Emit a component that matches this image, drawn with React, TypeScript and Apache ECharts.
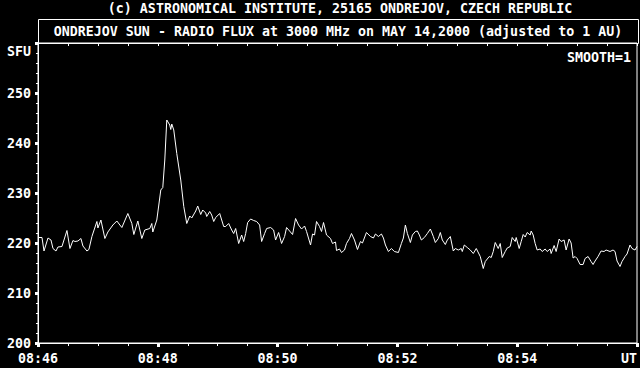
import React, { useEffect, useRef } from "react";
import * as echarts from "echarts";

const titleText = "(c) ASTRONOMICAL INSTITUTE, 25165 ONDREJOV, CZECH REPUBLIC";
const subtitleText = "ONDREJOV SUN - RADIO FLUX at 3000 MHz on MAY 14,2000 (adjusted to 1 AU)";
const smoothText = "SMOOTH=1";
const yUnit = "SFU";
const xTickLabels = ["08:46", "08:48", "08:50", "08:52", "08:54", "UT"];

// seconds after 08:46:00 UT
const seconds = [
  0, 4, 6, 10, 13, 15, 18, 20, 24, 29, 32, 35, 37, 40, 43, 45, 49, 51, 54, 59,
  60, 63, 67, 70, 75, 79, 82, 84, 90, 94, 96, 100, 104, 107, 112, 114, 115, 119, 123, 125,
  127, 129, 132, 133, 134, 136, 139, 143, 146, 149, 152, 154, 158, 160, 163, 165, 168, 169, 172, 174,
  176, 178, 182, 184, 186, 188, 191, 194, 196, 198, 201, 204, 206, 208, 210, 213, 216, 219, 222, 224,
  227, 229, 233, 236, 238, 241, 244, 247, 249, 252, 255, 258, 261, 264, 267, 269, 273, 275, 277, 279,
  282, 284, 286, 289, 293, 295, 298, 299, 302, 304, 307, 309, 312, 314, 317, 320, 323, 325, 329, 333,
  336, 338, 341, 344, 346, 348, 351, 354, 357, 361, 364, 366, 368, 370, 373, 375, 378, 380, 382, 384,
  387, 390, 393, 396, 398, 401, 403, 405, 408, 410, 413, 416, 418, 421, 424, 425, 427, 430, 433, 436,
  439, 443, 446, 448, 452, 454, 456, 458, 461, 463, 465, 468, 470, 473, 475, 478, 479, 482, 484, 486,
  488, 490, 493, 494, 496, 498, 500, 503, 505, 508, 510, 513, 514, 517, 519, 522, 524, 527, 529, 532,
  534, 536, 538, 540, 543, 546, 548, 551, 554, 556, 558, 561, 564, 567, 569, 573, 576, 578, 580, 583,
  585, 588, 590, 593, 595, 598, 600,
];

// radio flux, SFU
const flux = [
  221.1, 221.1, 218.4, 221.0, 220.6, 218.9, 218.4, 219.2, 219.3, 222.5, 218.9, 220.5, 220.3, 220.4, 220.9, 219.4, 218.4, 218.7, 221.3, 224.3,
  223.0, 224.6, 220.9, 222.2, 223.6, 224.4, 223.6, 223.1, 225.9, 223.9, 221.7, 224.4, 220.9, 222.6, 222.9, 223.9, 222.2, 224.6, 230.6, 231.1,
  236.6, 244.6, 243.6, 242.7, 243.8, 242.6, 237.9, 232.6, 227.3, 223.9, 225.4, 225.0, 226.4, 227.4, 225.7, 226.6, 226.0, 225.3, 226.3, 225.6,
  224.3, 225.1, 225.9, 224.6, 223.3, 223.3, 223.9, 222.6, 221.9, 222.9, 219.9, 221.6, 220.3, 221.9, 224.1, 224.8, 224.5, 224.3, 223.6, 220.3,
  221.9, 222.9, 223.1, 222.6, 220.6, 222.1, 219.9, 221.3, 223.1, 222.4, 221.7, 224.9, 223.6, 222.8, 223.4, 222.3, 219.6, 221.8, 221.6, 224.3,
  223.3, 222.3, 224.1, 221.6, 220.9, 219.9, 220.2, 218.5, 218.8, 218.1, 218.6, 219.9, 220.9, 221.9, 220.6, 218.7, 220.3, 220.0, 222.1, 221.3,
  221.0, 221.8, 221.3, 221.8, 221.0, 219.6, 218.3, 218.9, 218.3, 218.1, 219.9, 221.0, 223.6, 221.9, 220.1, 221.6, 222.3, 222.4, 221.6, 220.6,
  221.1, 221.9, 222.8, 221.3, 220.1, 220.9, 222.1, 220.6, 219.7, 220.6, 221.3, 218.4, 218.9, 218.6, 218.9, 218.3, 219.6, 219.1, 218.6, 217.9,
  218.9, 217.3, 214.9, 216.3, 217.3, 217.1, 218.3, 220.1, 218.9, 219.9, 217.1, 218.3, 219.0, 219.3, 221.1, 220.3, 221.1, 218.9, 220.3, 221.7,
  221.2, 222.1, 221.6, 222.4, 221.6, 219.9, 218.6, 218.8, 218.3, 218.8, 218.3, 218.8, 217.9, 219.5, 218.3, 220.8, 220.3, 220.6, 218.6, 220.8,
  220.0, 217.0, 217.3, 216.9, 215.7, 215.7, 216.9, 217.3, 216.3, 215.7, 216.4, 217.3, 218.4, 218.3, 218.6, 218.3, 218.6, 218.3, 216.4, 215.3,
  216.3, 217.3, 217.8, 219.6, 218.9, 218.6, 219.3,
];

const FONT = "DejaVu Sans Mono";
const FS = 13.3;

export default function App() {
  const ref = useRef<HTMLDivElement>(null);
  useEffect(() => {
    if (!ref.current) return;
    const chart = echarts.init(ref.current, null, { renderer: "svg" });
    const data = seconds.map((s, i) => [s, flux[i]]);
    const textStyle = { fill: "#fff", font: `bold ${FS}px "${FONT}"` };
    chart.setOption({
      animation: false,
      backgroundColor: "#000",
      grid: {
        left: 38,
        right: 2,
        top: 43,
        bottom: 25,
        show: true,
        borderColor: "#fff",
        borderWidth: 1,
        backgroundColor: "transparent",
      },
      xAxis: [
        {
          type: "value",
          min: 0,
          max: 600,
          interval: 120,
          position: "bottom",
          axisLine: { show: true, lineStyle: { color: "#fff", width: 1 } },
          axisTick: { show: true, inside: false, length: 4, lineStyle: { color: "#fff", width: 3 } },
          minorTick: { show: true, splitNumber: 4, length: 3, lineStyle: { color: "#fff", width: 1 } },
          splitLine: { show: false },
          axisLabel: {
            color: "#fff",
            fontFamily: FONT,
            fontWeight: "bold",
            fontSize: FS,
            margin: 9,
            alignMaxLabel: "right",
            formatter: (v: number) => xTickLabels[Math.round(v / 120)] ?? "",
          },
        },
        {
          type: "value",
          min: 0,
          max: 600,
          interval: 30,
          position: "top",
          axisLine: { show: true, lineStyle: { color: "#fff", width: 1 } },
          axisTick: { show: true, inside: true, length: 3, lineStyle: { color: "#fff", width: 1 } },
          splitLine: { show: false },
          axisLabel: { show: false },
        },
      ],
      yAxis: {
        type: "value",
        min: 200,
        max: 260,
        interval: 10,
        axisLine: { show: true, lineStyle: { color: "#fff", width: 1 } },
        axisTick: { show: true, inside: false, length: 3, lineStyle: { color: "#fff", width: 3 } },
        minorTick: { show: true, splitNumber: 5, length: 2, lineStyle: { color: "#fff", width: 1 } },
        splitLine: { show: false },
        axisLabel: {
          color: "#fff",
          fontFamily: FONT,
          fontWeight: "bold",
          fontSize: FS,
          margin: 7,
          formatter: (v: number) => (v >= 260 ? "" : String(v)),
        },
      },
      series: [
        {
          type: "line",
          data,
          showSymbol: false,
          symbol: "none",
          lineStyle: { color: "#fff", width: 1 },
          xAxisIndex: 0,
        },
      ],
      graphic: [
        {
          type: "text",
          x: 340,
          y: 8,
          style: { ...textStyle, text: titleText, textAlign: "center", textVerticalAlign: "middle" },
        },
        {
          type: "rect",
          shape: { x: 38.5, y: 19.5, width: 600, height: 24 },
          style: { fill: "none", stroke: "#fff", lineWidth: 1 },
        },
        {
          type: "text",
          x: 338,
          y: 31,
          style: { ...textStyle, text: subtitleText, textAlign: "center", textVerticalAlign: "middle" },
        },
        {
          type: "text",
          x: 631,
          y: 57,
          style: { ...textStyle, text: smoothText, textAlign: "right", textVerticalAlign: "middle" },
        },
        {
          type: "text",
          x: 31,
          y: 51,
          style: { ...textStyle, text: yUnit, textAlign: "right", textVerticalAlign: "middle" },
        },
      ],
    });
    return () => chart.dispose();
  }, []);
  return <div ref={ref} style={{ width: 640, height: 368, position: "fixed", left: 0, top: 0 }} />;
}
